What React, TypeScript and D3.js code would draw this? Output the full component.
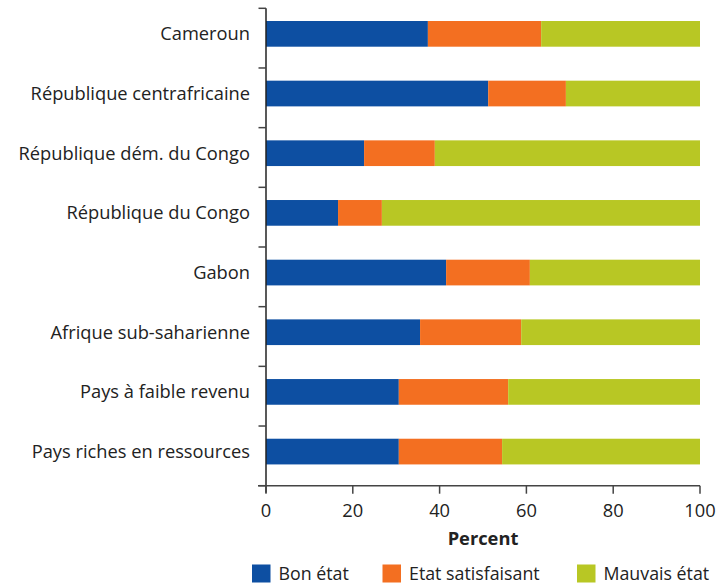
import { useRef, useEffect } from 'react';
import * as d3 from 'd3';

const categories = [
	'Cameroun',
	'République centrafricaine',
	'République dém. du Congo',
	'République du Congo',
	'Gabon',
	'Afrique sub-saharienne',
	'Pays à faible revenu',
	'Pays riches en ressources',
];

const seriesNames = ['Bon état', 'Etat satisfaisant', 'Mauvais état'];
const bonEtat = [37.3, 51.2, 22.6, 16.6, 41.5, 35.5, 30.6, 30.6];
const etatSatisfaisant = [26.1, 17.9, 16.3, 10.1, 19.3, 23.3, 25.2, 23.8];
const mauvaisEtat = [36.6, 30.9, 61.1, 73.3, 39.2, 41.2, 44.2, 45.6];
const xTicks = [0, 20, 40, 60, 80, 100];

const COLORS = ['#0d4fa2', '#f36f21', '#b8c724'];
const FONT = '"Open Sans", sans-serif';
const FS = 18.3;
const W = 718;
const H = 586;

export default function App() {
	const svgRef = useRef<SVGSVGElement>(null);

	useEffect(() => {
		const svg = d3.select(svgRef.current);
		svg.selectAll('*').remove();

		const margin = { top: 8.3, left: 266, right: 18, bottom: 100 };
		const plotW = W - margin.left - margin.right;
		const plotH = 485.7 - margin.top;

		const g = svg
			.append('g')
			.attr('transform', `translate(${margin.left},${margin.top})`);

		const x = d3.scaleLinear().domain([0, 100]).range([0, plotW]);
		const y = d3.scaleBand<string>().domain(categories).range([0, plotH]);
		const barOffset = 12.7;
		const barH = 25.7;

		const rows = categories.map((c, i) => ({
			cat: c,
			vals: [bonEtat[i], etatSatisfaisant[i], mauvaisEtat[i]],
		}));
		const stacked = d3
			.stack<{ cat: string; vals: number[] }, number>()
			.keys([0, 1, 2])
			.value((d, k) => d.vals[k])(rows);

		stacked.forEach((layer, si) => {
			g.append('g')
				.selectAll('rect')
				.data(layer)
				.join('rect')
				.attr('x', (d) => x(d[0]))
				.attr('width', (d) => x(d[1]) - x(d[0]))
				.attr('y', (d) => (y(d.data.cat) as number) + barOffset)
				.attr('height', barH)
				.attr('fill', COLORS[si]);
		});

		// Y axis: ticks at band boundaries
		const axisColor = '#444';
		const bounds = d3.range(categories.length + 1).map((i) => i * y.step());
		g.append('line')
			.attr('x1', 0)
			.attr('x2', 0)
			.attr('y1', 0)
			.attr('y2', plotH + 7)
			.attr('stroke', '#222')
			.attr('stroke-width', 1.5);
		g.selectAll('.ytick')
			.data(bounds)
			.join('line')
			.attr('x1', -7.5)
			.attr('x2', 0)
			.attr('y1', (d) => d)
			.attr('y2', (d) => d)
			.attr('stroke', axisColor)
			.attr('stroke-width', 1.5);

		g.selectAll('.ylab')
			.data(categories)
			.join('text')
			.attr('x', -16)
			.attr('y', (d) => (y(d) as number) + barOffset + barH / 2)
			.attr('dy', '0.35em')
			.attr('text-anchor', 'end')
			.attr('font-family', FONT)
			.attr('font-size', FS)
			.attr('fill', '#222')
			.text((d) => d);

		// X axis
		g.append('line')
			.attr('x1', -8)
			.attr('x2', plotW)
			.attr('y1', plotH)
			.attr('y2', plotH)
			.attr('stroke', axisColor)
			.attr('stroke-width', 1.5);
		g.selectAll('.xtick')
			.data(xTicks)
			.join('line')
			.attr('x1', (d) => x(d))
			.attr('x2', (d) => x(d))
			.attr('y1', plotH)
			.attr('y2', plotH + 8)
			.attr('stroke', axisColor)
			.attr('stroke-width', 1.5);
		g.selectAll('.xlab')
			.data(xTicks)
			.join('text')
			.attr('x', (d) => x(d))
			.attr('y', plotH + 31)
			.attr('text-anchor', 'middle')
			.attr('font-family', FONT)
			.attr('font-size', FS)
			.attr('fill', '#222')
			.text((d) => d);

		g.append('text')
			.attr('x', plotW / 2)
			.attr('y', plotH + 59)
			.attr('text-anchor', 'middle')
			.attr('font-family', FONT)
			.attr('font-size', FS)
			.attr('font-weight', 'bold')
			.attr('fill', '#222')
			.text('Percent');

		// Legend
		const legendX = [252, 382.5, 577];
		const legend = svg
			.append('g')
			.selectAll('g')
			.data(seriesNames)
			.join('g')
			.attr('transform', (_, i) => `translate(${legendX[i]},564.5)`);
		legend
			.append('rect')
			.attr('width', 18.5)
			.attr('height', 18)
			.attr('fill', (_, i) => COLORS[i]);
		legend
			.append('text')
			.attr('x', 26.5)
			.attr('y', 9)
			.attr('dy', '0.35em')
			.attr('font-family', FONT)
			.attr('font-size', 17.8)
			.attr('fill', '#222')
			.text((d) => d);
	}, []);

	return (
		<div style={{ position: 'absolute', left: 0, top: 0 }}>
			<svg ref={svgRef} width={W} height={H} style={{ display: 'block' }} />
		</div>
	);
}
